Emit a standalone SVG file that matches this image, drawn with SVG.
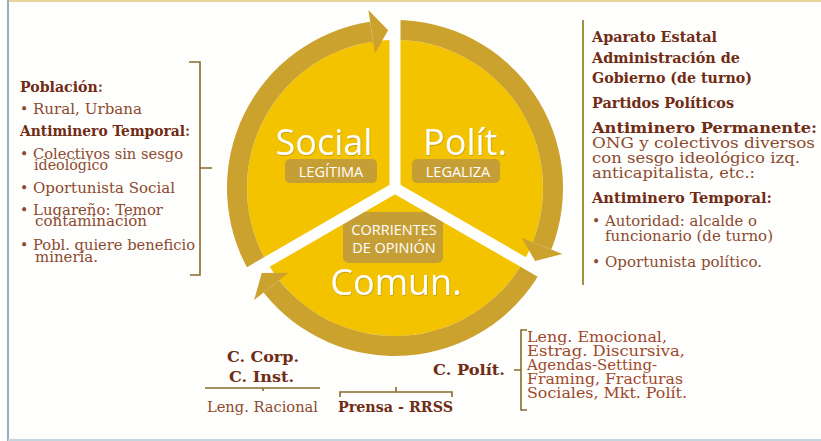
<svg xmlns="http://www.w3.org/2000/svg" width="821" height="441" viewBox="0 0 821 441">
<defs>
<style>
.bg{fill:#fefefd}
.slice{fill:#f3c300}
.ring{fill:#cba22e}
.gap{stroke:#fefefd;stroke-width:11;fill:none}
.tag{fill:#c69e36}
.big{font-family:"Open Sans","Noto Sans",sans-serif;font-size:36px;fill:#ffffff;text-anchor:middle}
.small{font-family:"Open Sans","Noto Sans",sans-serif;font-size:14.5px;fill:#ffffff;text-anchor:middle}
.h{font-family:"DejaVu Serif",serif;font-weight:bold;fill:#702c14;font-size:14px}
.t{font-family:"DejaVu Serif",serif;fill:#8c4a2e;font-size:14px}
.lst{font-family:"DejaVu Serif",serif;font-size:14px;fill:#a0482a}
.br{stroke:#8a6a2c;stroke-width:1.6;fill:none}
.br2{stroke:#a09040;stroke-width:2;fill:none}
</style>
<filter id="sh" x="-10%" y="-10%" width="120%" height="130%">
<feDropShadow dx="0.6" dy="0.8" stdDeviation="0.6" flood-color="#8a6a10" flood-opacity="0.5"/>
</filter>
</defs>
<rect class="bg" x="0" y="0" width="821" height="441"/>
<line x1="8" y1="1" x2="821" y2="1" stroke="#e9d59c" stroke-width="2"/>
<line x1="8" y1="0" x2="8" y2="441" stroke="#9bb0bf" stroke-width="2"/>
<line x1="8" y1="440" x2="821" y2="440" stroke="#c5d5dd" stroke-width="2"/>

<g id="node-social">
<path class="slice" d="M395,188 L266.83,262 A148,148 0 0 1 395,40 Z"/>
<text class="big" x="324" y="155" filter="url(#sh)">Social</text>
<rect class="tag" x="285" y="159" width="92" height="24" rx="5"/>
<text class="small" x="331" y="177">LEGÍTIMA</text>
</g>
<g id="node-polit">
<path class="slice" d="M395,188 L395,40 A148,148 0 0 1 523.17,262 Z"/>
<text class="big" x="465" y="155" filter="url(#sh)">Polít.</text>
<rect class="tag" x="412" y="159" width="88" height="24" rx="5"/>
<text class="small" x="458" y="177">LEGALIZA</text>
</g>
<g id="node-comun">
<path class="slice" d="M395,188 L523.17,262 A148,148 0 0 1 266.83,262 Z"/>
<rect class="tag" x="343" y="212" width="100" height="51" rx="6"/>
<text class="small" x="394" y="235">CORRIENTES</text>
<text class="small" x="394" y="253">DE OPINIÓN</text>
<text class="big" x="396" y="295" filter="url(#sh)">Comun.</text>
</g>

<g id="connectors">
<path class="ring" d="M249.51,272 A168,168 0 0 1 370.17,21.84 L373.12,41.63 A148,148 0 0 0 266.83,262 Z"/>
<path class="ring" d="M374.90,53.49 L368.39,9.98 L388.11,30.15 Z"/>
<path class="ring" d="M395,20 A168,168 0 0 1 551.31,249.57 L532.70,242.24 A148,148 0 0 0 395,40 Z"/>
<path class="ring" d="M521.54,237.84 L562.48,253.97 L535.15,260.96 Z"/>
<path class="ring" d="M540.49,272 A168,168 0 0 1 263.52,292.58 L279.17,280.13 A148,148 0 0 0 523.17,262 Z"/>
<path class="ring" d="M288.57,272.66 L254.13,300.05 L261.74,272.89 Z"/>
</g>
<g id="gaps">
<line class="gap" x1="395" y1="188" x2="395" y2="6"/>
<line class="gap" x1="395" y1="188" x2="555.2" y2="280.5"/>
<line class="gap" x1="395" y1="188" x2="234.8" y2="280.5"/>
</g>

<g id="left-block">
<path class="br" d="M189,62 H200 V275 H190 M200,168 H212"/>
<text class="h" x="20" y="92" textLength="83" lengthAdjust="spacingAndGlyphs">Población<tspan class="t">:</tspan></text>
<text class="t" x="20" y="114">•</text>
<text class="t" x="33" y="114" textLength="109" lengthAdjust="spacingAndGlyphs">Rural, Urbana</text>
<text class="h" x="20" y="136" textLength="170" lengthAdjust="spacingAndGlyphs">Antiminero Temporal<tspan class="t">:</tspan></text>
<text class="t" x="20" y="159">•</text>
<text class="t" x="33" y="159" textLength="150" lengthAdjust="spacingAndGlyphs">Colectivos sin sesgo</text>
<text class="t" x="34" y="170" textLength="74" lengthAdjust="spacingAndGlyphs">ideológico</text>
<text class="t" x="20" y="193">•</text>
<text class="t" x="33" y="193" textLength="142" lengthAdjust="spacingAndGlyphs">Oportunista Social</text>
<text class="t" x="20" y="215">•</text>
<text class="t" x="33" y="215" textLength="130" lengthAdjust="spacingAndGlyphs">Lugareño: Temor</text>
<text class="t" x="35" y="226" textLength="112" lengthAdjust="spacingAndGlyphs">contaminación</text>
<text class="t" x="20" y="250">•</text>
<text class="t" x="33" y="250" textLength="162" lengthAdjust="spacingAndGlyphs">Pobl. quiere beneficio</text>
<text class="t" x="35" y="262" textLength="63" lengthAdjust="spacingAndGlyphs">minería.</text>
</g>

<g id="right-block">
<line class="br2" x1="583" y1="20" x2="583" y2="285"/>
<text class="h" x="592" y="42" textLength="125" lengthAdjust="spacingAndGlyphs">Aparato Estatal</text>
<text class="h" x="592" y="63" textLength="148" lengthAdjust="spacingAndGlyphs">Administración de</text>
<text class="h" x="592" y="83" textLength="160" lengthAdjust="spacingAndGlyphs">Gobierno (de turno)</text>
<text class="h" x="592" y="108" textLength="142" lengthAdjust="spacingAndGlyphs">Partidos Políticos</text>
<text class="h" x="592" y="133" textLength="225" lengthAdjust="spacingAndGlyphs">Antiminero Permanente:</text>
<text class="t" x="592" y="148" textLength="223" lengthAdjust="spacingAndGlyphs">ONG y colectivos diversos</text>
<text class="t" x="592" y="163" textLength="208" lengthAdjust="spacingAndGlyphs">con sesgo ideológico izq.</text>
<text class="t" x="592" y="178" textLength="163" lengthAdjust="spacingAndGlyphs">anticapitalista, etc.:</text>
<text class="h" x="592" y="203" textLength="180" lengthAdjust="spacingAndGlyphs">Antiminero Temporal:</text>
<text class="t" x="592" y="226">•</text>
<text class="t" x="605" y="226" textLength="152" lengthAdjust="spacingAndGlyphs">Autoridad: alcalde o</text>
<text class="t" x="605" y="241" textLength="168" lengthAdjust="spacingAndGlyphs">funcionario (de turno)</text>
<text class="t" x="592" y="267">•</text>
<text class="t" x="605" y="267" textLength="157" lengthAdjust="spacingAndGlyphs">Oportunista político.</text>
</g>

<g id="bottom-corp">
<text class="h" x="227" y="362" textLength="72" lengthAdjust="spacingAndGlyphs">C. Corp.</text>
<text class="h" x="229" y="382" textLength="65" lengthAdjust="spacingAndGlyphs">C. Inst.</text>
<path class="br" d="M205,388 H320 M263,388 V391"/>
<text class="t" x="207" y="412" textLength="111" lengthAdjust="spacingAndGlyphs">Leng. Racional</text>
</g>
<g id="bottom-prensa">
<path class="br" d="M340,397 V392 H452 V397 M396,392 V387"/>
<text class="h" x="338" y="412" textLength="115" lengthAdjust="spacingAndGlyphs">Prensa - RRSS</text>
</g>
<g id="bottom-polit">
<text class="h" x="433" y="375" textLength="72" lengthAdjust="spacingAndGlyphs">C. Polít.</text>
<path class="br" d="M527,330 H521 V410 H527 M521,370 H514"/>
<text class="lst" x="527" y="342" textLength="140" lengthAdjust="spacingAndGlyphs">Leng. Emocional,</text>
<text class="lst" x="527" y="356" textLength="158" lengthAdjust="spacingAndGlyphs">Estrag. Discursiva,</text>
<text class="lst" x="527" y="370" textLength="130" lengthAdjust="spacingAndGlyphs">Agendas-Setting-</text>
<text class="lst" x="527" y="384" textLength="156" lengthAdjust="spacingAndGlyphs">Framing, Fracturas</text>
<text class="lst" x="527" y="398" textLength="160" lengthAdjust="spacingAndGlyphs">Sociales, Mkt. Polít.</text>
</g>
</svg>
